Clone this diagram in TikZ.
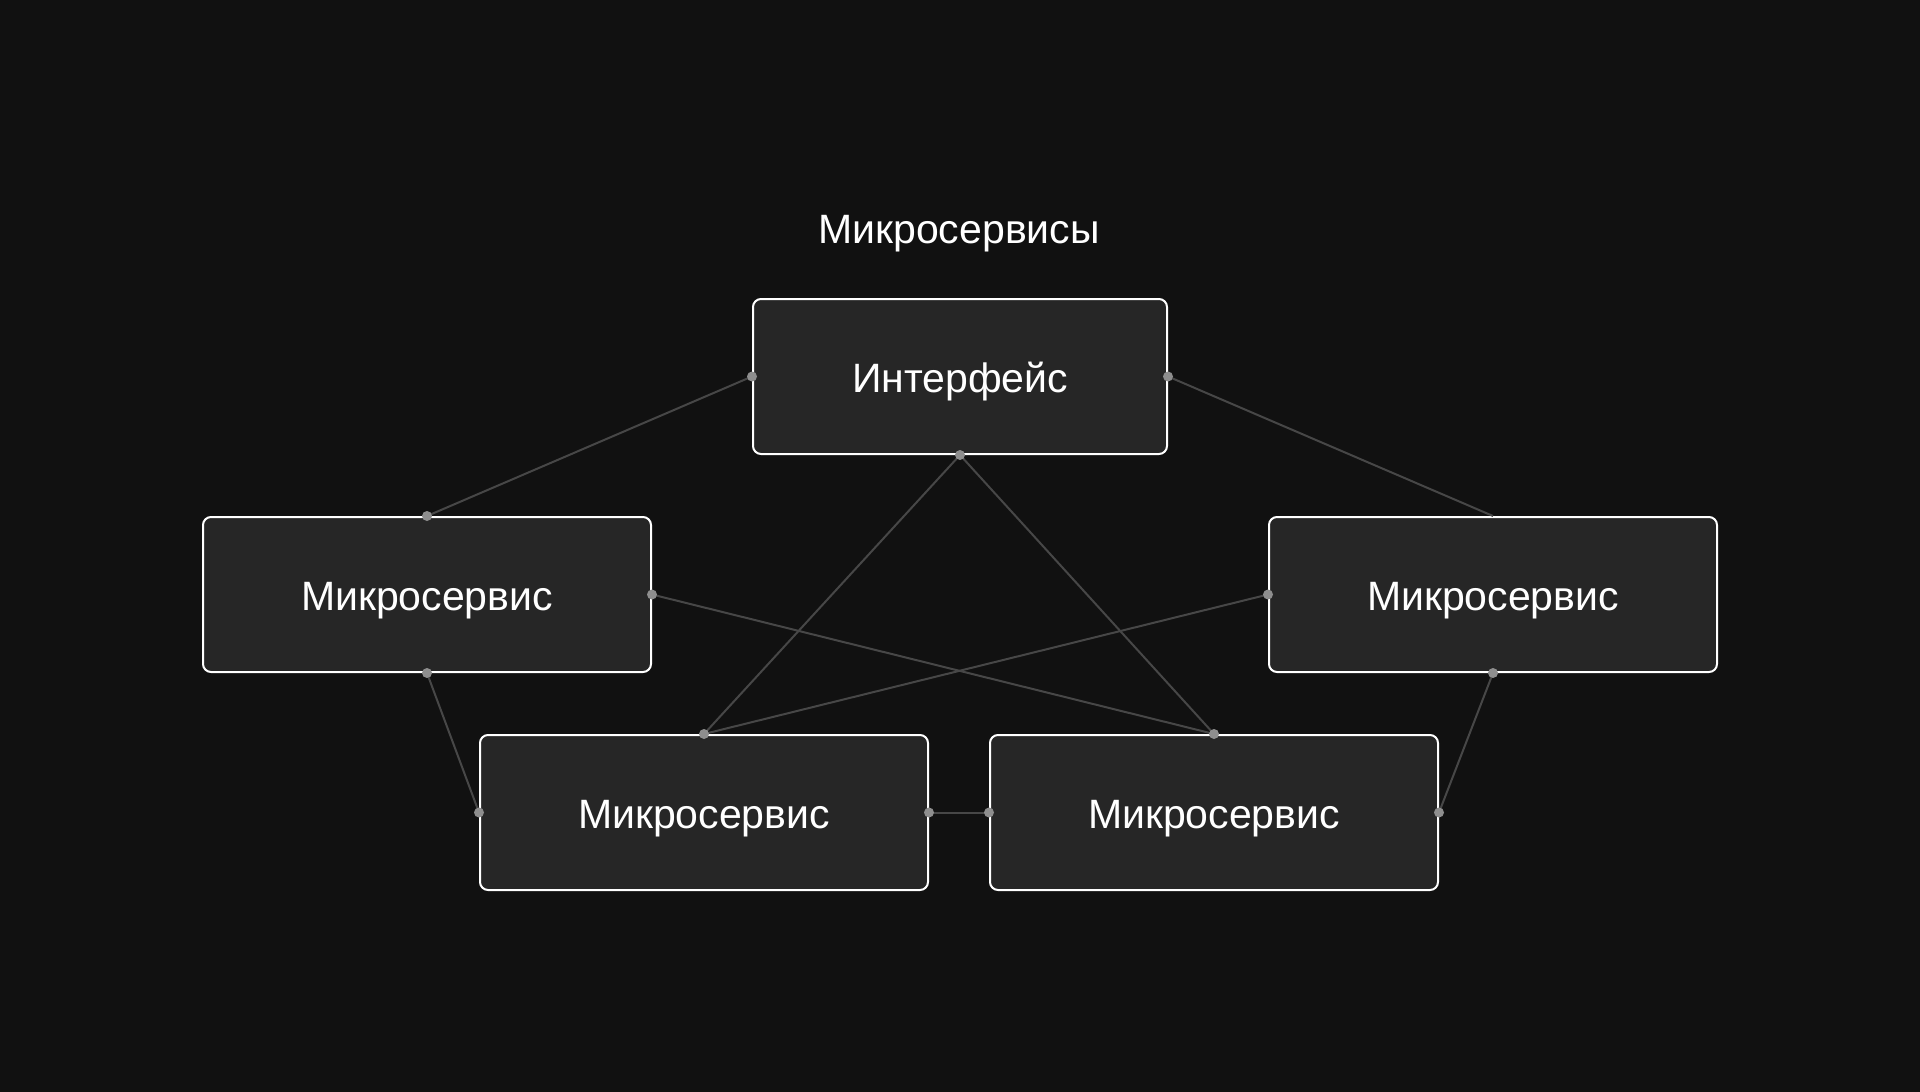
\documentclass[tikz,border=0pt]{standalone}
\usepackage{fontspec}
\setmainfont{Liberation Sans}
\usetikzlibrary{positioning}
\definecolor{bgc}{HTML}{111111}
\definecolor{boxc}{HTML}{262626}
\definecolor{linkc}{HTML}{474747}
\definecolor{dotc}{HTML}{8E8E8E}
\newcommand{\svcFont}{\fontsize{41}{49}\selectfont}

\begin{document}
\begin{tikzpicture}[x=1pt, y=-1pt, node distance=60pt,
	svc/.style={draw=white, line width=2pt, fill=boxc, rounded corners=8pt, minimum width=448pt, minimum height=155pt, text=white, font=\svcFont, text height=32pt, text depth=0pt},
	link/.style={draw=linkc, line width=2pt}]
		\fill[bgc] (0,0) rectangle (1920,1092);
		\useasboundingbox (0,0) rectangle (1920,1092);
		%\begin{package}{services}
			\node[text=white, font=\svcFont, anchor=base] (title) at (959,243) {Микросервисы};
			\node[svc, minimum width=414pt] (iface) at (960,376.5) {Интерфейс};
			\node[svc] (msl) at (427,594.5) {Микросервис};
			\node[svc] (msr) at (1493,594.5) {Микросервис};
			\node[svc] (msbl) at (704,812.5) {Микросервис};
			\node[svc, right=of msbl] (msbr) {Микросервис};
		%\end{package}%services
		\draw[link] (iface.west) -- (msl.north);
		\draw[link] (iface.east) -- (msr.north);
		\draw[link] (iface.south) -- (msbl.north);
		\draw[link] (iface.south) -- (msbr.north);
		\draw[link] (msl.east) -- (msbr.north);
		\draw[link] (msr.west) -- (msbl.north);
		\draw[link] (msl.south) -- (msbl.west);
		\draw[link] (msr.south) -- (msbr.east);
		\draw[link] (msbl.east) -- (msbr.west);
		\foreach \p in {iface.west, iface.east, iface.south, msl.north, msl.east, msl.south, msr.west, msr.south, msbl.north, msbl.west, msbl.east, msbr.north, msbr.west, msbr.east}
			\fill[dotc] (\p) circle (5pt);
	\end{tikzpicture}
\end{document}
